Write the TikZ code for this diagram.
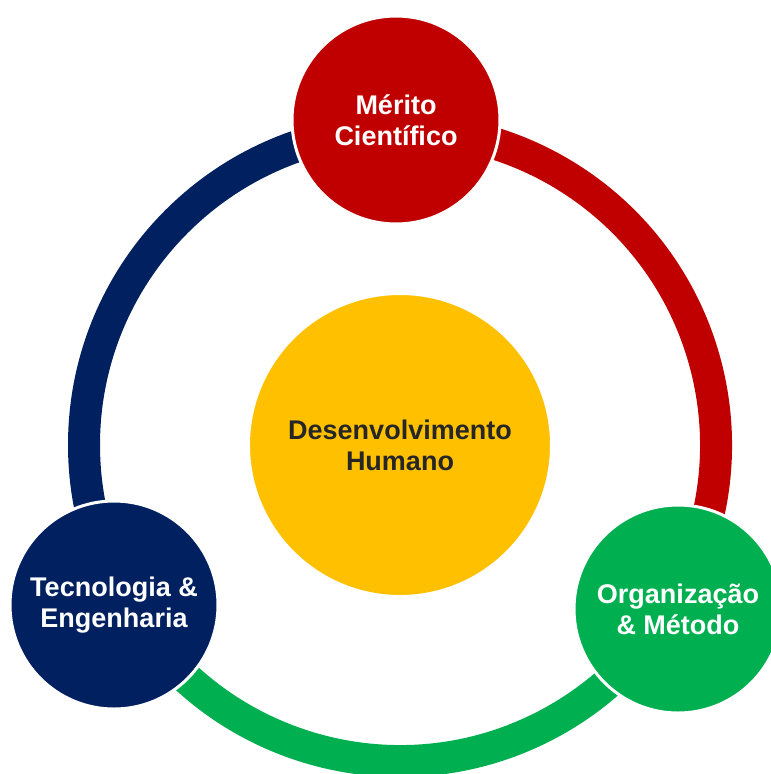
\documentclass[tikz,border=0pt]{standalone}
\usepackage{fontspec}
\setmainfont{Liberation Sans}
\usetikzlibrary{positioning}
\definecolor{meritored}{HTML}{C00000}
\definecolor{tecblue}{HTML}{002060}
\definecolor{orggreen}{HTML}{00B050}
\definecolor{humyellow}{HTML}{FFC000}
\definecolor{humtext}{HTML}{262626}

\begin{document}
\begin{tikzpicture}[x=1pt,y=1pt,
  ball/.style={circle, minimum size=208pt, inner sep=0pt, draw=white,
    line width=3pt, align=center, text=white,
    font=\fontsize{27}{31}\selectfont\bfseries},
  ring/.style={line width=32pt}]
  \useasboundingbox (0,0) rectangle (771,-774);
  \coordinate (hub) at (400,-445);
  % outer ring, one arc per colour
  \draw[ring, tecblue] (hub) ++(90:316) arc (90:209:316);
  \draw[ring, orggreen] (hub) ++(209:316) arc (209:330:316);
  \draw[ring, meritored] (hub) ++(330:316) arc (330:450:316);
  % the four circles
  \node[ball, minimum size=303pt, fill=humyellow, text=humtext] (humano) at (hub)
    {Desenvolvimento\\Humano};
  \node[ball, fill=meritored] (merito) at (396,-120) {Mérito\\Científico};
  \node[ball, fill=tecblue] (tecnologia) at (114,-605) {Tecnologia \&\\Engenharia};
  \node[ball, fill=orggreen] (organizacao) at (678,-609) {Organização\\\& Método};
\end{tikzpicture}
\end{document}
